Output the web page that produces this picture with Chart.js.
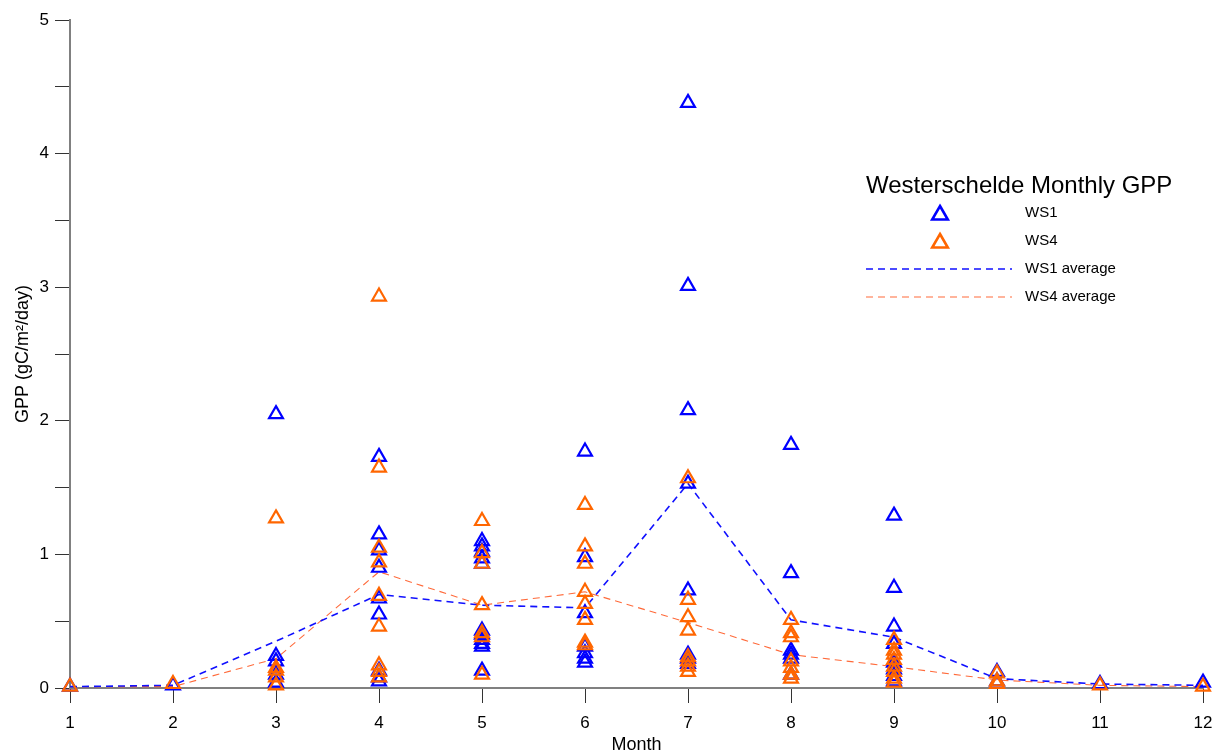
<!DOCTYPE html>
<html>
<head>
<meta charset="utf-8">
<script src="https://cdn.jsdelivr.net/npm/chart.js@4.4.1/dist/chart.umd.min.js"></script>
<style>
html, body { margin: 0; padding: 0; background: #fff; }
</style>
</head>
<body>
<canvas id="chart" width="1226" height="756"></canvas>
<script>
var months = [1, 2, 3, 4, 5, 6, 7, 8, 9, 10, 11, 12];

// GPP samples per month (gC/m2/day)
var ws1 = [
    [0.01],
    [0.02],
    [2.05, 0.24, 0.2, 0.1, 0.04],
    [1.73, 1.15, 1.03, 0.9, 0.67, 0.55, 0.13, 0.08, 0.05],
    [1.1, 1.06, 1.02, 0.97, 0.93, 0.43, 0.4, 0.36, 0.33, 0.31, 0.13],
    [1.77, 0.98, 0.56, 0.31, 0.26, 0.22, 0.19],
    [4.38, 3.01, 2.08, 1.53, 0.73, 0.25, 0.22, 0.18],
    [1.82, 0.86, 0.28, 0.25, 0.22, 0.1],
    [1.29, 0.75, 0.46, 0.33, 0.19, 0.14, 0.09, 0.05],
    [0.12, 0.05],
    [0.03],
    [0.04]
];
var ws4 = [
    [0.01],
    [0.03],
    [1.27, 0.15, 0.13, 0.08, 0.02],
    [2.93, 1.65, 1.05, 0.94, 0.69, 0.46, 0.17, 0.12, 0.08],
    [1.25, 1.01, 0.93, 0.62, 0.41, 0.38, 0.1],
    [1.37, 1.06, 0.93, 0.72, 0.63, 0.51, 0.34, 0.32],
    [1.57, 0.66, 0.53, 0.43, 0.23, 0.2, 0.16, 0.12],
    [0.51, 0.41, 0.38, 0.2, 0.15, 0.1, 0.07],
    [0.36, 0.28, 0.25, 0.21, 0.16, 0.12, 0.07, 0.04],
    [0.11, 0.05, 0.03],
    [0.02],
    [0.01]
];
var ws1Avg = [0.01, 0.02, 0.35, 0.7, 0.62, 0.6, 1.53, 0.51, 0.38, 0.07, 0.03, 0.02];
var ws4Avg = [0.01, 0.01, 0.22, 0.87, 0.62, 0.72, 0.49, 0.25, 0.16, 0.06, 0.02, 0.01];

var FONT = "'Liberation Sans', Arial, sans-serif";

function toPoints(lists) {
    var pts = [];
    lists.forEach(function(vals, i) {
        vals.forEach(function(v) {
            pts.push({x: months[i], y: v});
        });
    });
    return pts;
}

function toLine(vals) {
    return vals.map(function(v, i) { return {x: months[i], y: v}; });
}

// hollow triangle, same geometry as chart.js 'triangle' point style
function triangle(ctx, x, y, r) {
    ctx.beginPath();
    for (var k = 0; k < 3; k++) {
        var a = -Math.PI / 2 + k * 2 * Math.PI / 3;
        var px = x + Math.cos(a) * r;
        var py = y + Math.sin(a) * r;
        if (k === 0) ctx.moveTo(px, py); else ctx.lineTo(px, py);
    }
    ctx.closePath();
}

// legend drawn inside the plot, right of the July peak
var boxLegend = {
    id: 'boxLegend',
    afterDraw: function(chart) {
        var ctx = chart.ctx;
        ctx.save();
        ctx.fillStyle = '#000';
        ctx.textBaseline = 'middle';
        ctx.textAlign = 'left';
        ctx.font = '24px ' + FONT;
        ctx.fillText('Westerschelde Monthly GPP', 866, 186);
        ctx.font = '15px ' + FONT;
        chart.data.datasets.forEach(function(ds, i) {
            var y = 213 + i * 28;
            ctx.save();
            ctx.strokeStyle = ds.borderColor;
            ctx.lineWidth = ds.borderWidth;
            if (ds.type === 'line') {
                ctx.setLineDash(ds.borderDash);
                ctx.beginPath();
                ctx.moveTo(866, y);
                ctx.lineTo(1012, y);
                ctx.stroke();
            } else {
                ctx.lineWidth = 2.6;
                triangle(ctx, 940, y + 2, 9);
                ctx.stroke();
            }
            ctx.restore();
            ctx.fillText(ds.label, 1025, y);
        });
        ctx.restore();
    }
};

var chart = new Chart(document.getElementById('chart'), {
    type: 'scatter',
    data: {
        datasets: [{
            label: 'WS1',
            data: toPoints(ws1),
            pointStyle: 'triangle',
            pointRadius: 8,
            borderWidth: 2.2,
            borderColor: '#0000ff',
            backgroundColor: 'rgba(0,0,0,0)',
            clip: false,
            order: 2
        }, {
            label: 'WS4',
            data: toPoints(ws4),
            pointStyle: 'triangle',
            pointRadius: 8,
            borderWidth: 2.2,
            borderColor: '#ff6600',
            backgroundColor: 'rgba(0,0,0,0)',
            clip: false,
            order: 1
        }, {
            type: 'line',
            label: 'WS1 average',
            data: toLine(ws1Avg),
            borderColor: '#1010ff',
            borderWidth: 1.6,
            borderDash: [7, 5],
            pointRadius: 0,
            fill: false,
            clip: false,
            order: 3
        }, {
            type: 'line',
            label: 'WS4 average',
            data: toLine(ws4Avg),
            borderColor: '#ff6a3a',
            borderWidth: 1.1,
            borderDash: [7, 5],
            pointRadius: 0,
            fill: false,
            clip: false,
            order: 4
        }]
    },
    options: {
        responsive: false,
        animation: false,
        layout: {
            padding: {top: 20, right: 23, left: 0, bottom: 0}
        },
        plugins: {
            legend: {display: false},
            tooltip: {enabled: false}
        },
        scales: {
            x: {
                type: 'linear',
                min: 1,
                max: 12,
                ticks: {
                    stepSize: 1,
                    color: '#000',
                    font: {family: FONT, size: 17},
                    padding: 10
                },
                grid: {
                    drawOnChartArea: false,
                    tickLength: 15,
                    tickColor: '#333',
                    tickWidth: 1
                },
                border: {color: '#808080', width: 2},
                title: {
                    display: true,
                    text: 'Month',
                    color: '#000',
                    font: {family: FONT, size: 18},
                    padding: 0
                },
                afterFit: function(s) { s.height = 68; }
            },
            y: {
                min: 0,
                max: 5,
                ticks: {
                    stepSize: 0.5,
                    color: '#000',
                    font: {family: FONT, size: 17},
                    padding: 6,
                    callback: function(v) { return Number.isInteger(v) ? v : ''; }
                },
                grid: {
                    drawOnChartArea: false,
                    tickLength: 15,
                    tickColor: '#333',
                    tickWidth: 1
                },
                border: {color: '#808080', width: 2},
                title: {
                    display: true,
                    text: 'GPP (gC/m²/day)',
                    color: '#000',
                    font: {family: FONT, size: 18},
                    padding: 12
                },
                afterFit: function(s) { s.width = 70; }
            }
        }
    },
    plugins: [boxLegend]
});
</script>
</body>
</html>
